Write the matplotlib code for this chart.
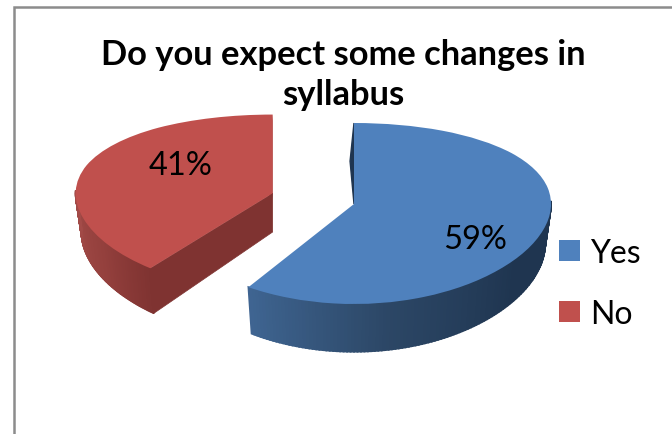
import numpy as np
import matplotlib
matplotlib.use('Agg')
import matplotlib.pyplot as plt
from matplotlib.patches import Rectangle

labels = ['Yes', 'No']
values = [59, 41]
pct_labels = ['59%', '41%']
title = 'Do you expect some changes in\nsyllabus'

colors = ['#4f81bd', '#c0504d']
W, H = 672, 435
RX = 197
DEPTH = 0.42
SHRINK = 0.97
EXPLODE = 0.43
RED_SKEW = 6  # the 3d view makes the front edge of the no slice swing out a bit


# y axis of the pie "tilted": pixels from the top of the figure, front is stretched
def to_px(y):
    return 205 - 90.5 * y + 9.5 * y * y

def forward(y):
    return -to_px(np.asarray(y, dtype=float))

def inverse(v):
    v = np.asarray(v, dtype=float)
    return (90.5 - np.sqrt(np.maximum(8190.25 - 38 * (205 + v), 0))) / 19


def side_wall(ax, cx, cy, t0, t1, col_stops, ang_stops, n=120):
    # outer wall between two angles, clockwise from the top, in small strips
    t = np.linspace(t0, t1, n)
    x = np.sin(np.radians(t))
    y = np.cos(np.radians(t))
    rgb = np.array([matplotlib.colors.to_rgb(c) for c in col_stops])
    for i in range(n - 1):
        xs = [cx + x[i], cx + x[i + 1], cx + SHRINK * x[i + 1], cx + SHRINK * x[i]]
        ys = [cy + y[i], cy + y[i + 1], cy + y[i + 1] - DEPTH, cy + y[i] - DEPTH]
        c = [np.interp(t[i], ang_stops, rgb[:, k]) for k in range(3)]
        ax.fill(xs, ys, color=c, lw=1.3, zorder=1)


fig = plt.figure(figsize=(W / 100, H / 100), dpi=100, facecolor='white')
ax = fig.add_axes([0, 0, 1, 1])

wedges, _ = ax.pie(values, colors=colors, startangle=90, counterclock=False,
                   explode=[0, EXPLODE], center=(0, 0), radius=1,
                   wedgeprops={'zorder': 3, 'lw': 0})

split = 360 * values[0] / sum(values)
mid = np.radians((split + 360) / 2)
rx_c, ry_c = EXPLODE * np.sin(mid), EXPLODE * np.cos(mid)
red_start = split + RED_SKEW
wedges[1].set_theta2(wedges[1].theta2 - RED_SKEW)
sp_x, sp_y = np.sin(np.radians(red_start)), np.cos(np.radians(red_start))

# walls, yes slice
side_wall(ax, 0, 0, 88, split, ['#1f3550', '#1f3550', '#2c4766', '#3f6592'],
          [88, 125, 170, split])
ax.fill([0, -0.02, 0], [1, 0.5, 0], color='#1f3550', zorder=1)

# walls, no slice
side_wall(ax, rx_c, ry_c, red_start, 272, ['#7f3331', '#94403d', '#a34b48'],
          [red_start, 240, 272])
ax.fill([rx_c, rx_c + sp_x, rx_c + SHRINK * sp_x, rx_c],
        [ry_c, ry_c + sp_y, ry_c + sp_y - DEPTH, ry_c - DEPTH],
        color='#7f3331', lw=0.5, zorder=2)
ax.fill([rx_c, rx_c - 0.02, rx_c - 0.02, rx_c], [ry_c + 1, ry_c + 0.5, ry_c - DEPTH, ry_c],
        color='#a34542', lw=0, zorder=1)

ax.set_aspect('auto')
ax.set_yscale('function', functions=(forward, inverse))
ax.set_xlim((0 - 354) / RX, (W - 354) / RX)
ax.set_ylim(inverse(-H), inverse(0))
ax.axis('off')

font = 'Lato'
fig.text(343 / W, 1 - 75 / H, title, ha='center', va='center', fontsize=24.8,
         fontweight='bold', family=font, linespacing=1.33, color='black')

fig.text(181 / W, 1 - 166 / H, pct_labels[1], ha='center', va='center', fontsize=23.5, family=font)
fig.text(475 / W, 1 - 240 / H, pct_labels[0], ha='center', va='center', fontsize=23.5, family=font)

fig.legend(wedges, labels, loc='upper left', bbox_to_anchor=(533 / W, 1 - 213 / H),
           frameon=False, prop={'family': font, 'size': 23}, handlelength=0.66,
           handleheight=0.66, handletextpad=0.32, labelspacing=0.97, borderpad=0.3)

# grey frame of the slide
fig.add_artist(Rectangle((13.5 / W, -0.05), (W + 10) / W, 1.05 - 7.5 / H, transform=fig.transFigure,
                         fill=False, ec='#8c8c8c', lw=1.8))

fig.savefig('out.png', dpi=100)
